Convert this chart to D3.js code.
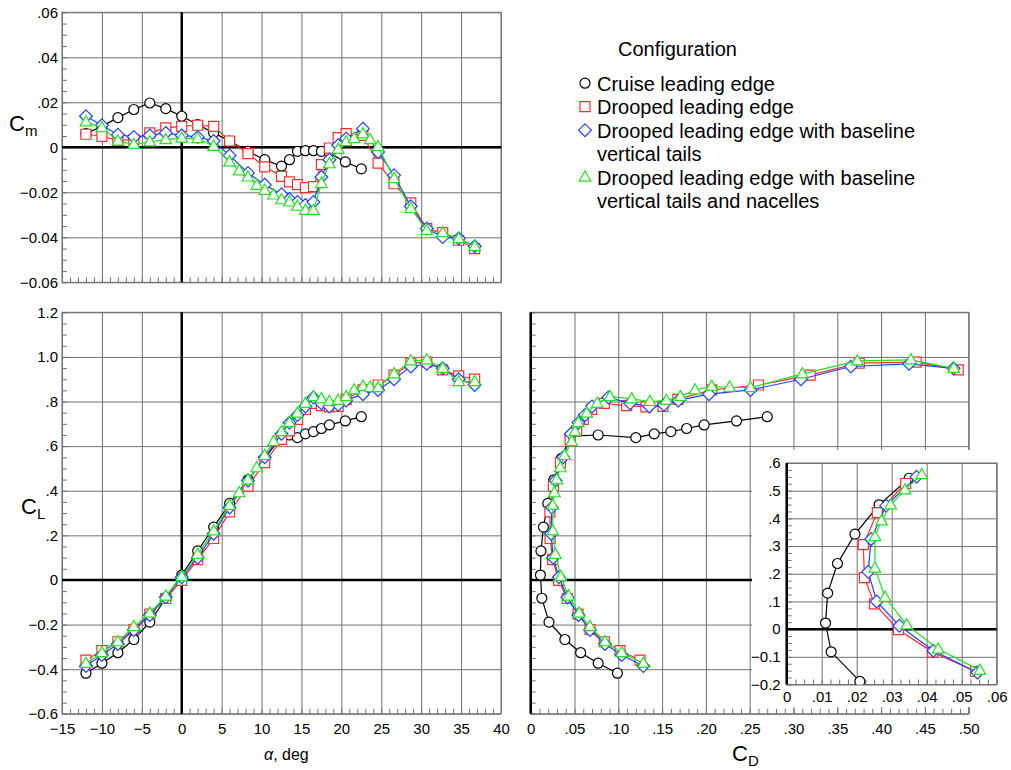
<!DOCTYPE html>
<html>
<head>
<meta charset="utf-8">
<script src="https://cdn.jsdelivr.net/npm/d3@7"></script>
<style>
    body { margin: 0; background: #fff; }
    text { font-family: "Liberation Sans", Arial, sans-serif; fill: #000; }
</style>
</head>
<body>
<script>
// ---- data ----
// cruise leading edge
var alphaCruise = [-12, -10, -8, -6, -4, -2, 0, 2, 4, 6, 8.3, 10.4, 12.5, 13.5, 14.5, 15.5, 16.5, 17.5, 18.5, 20.5, 22.5];
var clCruise = [-.418, -.373, -.326, -.267, -.189, -.082, .022, .130, .237, .343, .449, .545, .645, .650, .638, .655, .665, .679, .695, .713, .732];
var cdCruise = [.099, .077, .057, .039, .0209, .0127, .0111, .0117, .0145, .0195, .0264, .035, .045, .077, .120, .141, .160, .178, .198, .235, .270];
var cmCruise = [.0061, .0093, .0132, .0168, .0197, .0172, .0138, .0101, .0064, .0028, -.0018, -.0055, -.0084, -.0055, -.0018, -.0015, -.0015, -.0018, -.0025, -.0065, -.0096];

// drooped leading edge (also used for the alpha list of the vertical-tail case)
var alphaDroop = [-12, -10, -8, -6, -4, -2, 0, 2, 4, 6, 8.3, 10.4, 12.5, 13.5, 14.5, 15.5, 16.5, 17.5, 18.5, 19.6, 20.6, 22.7, 24.6, 26.6, 28.7, 30.7, 32.7, 34.7, 36.7];
var clDroop = [-.359, -.317, -.277, -.222, -.153, -.083, -.002, .091, .186, .305, .421, .526, .630, .668, .720, .765, .792, .782, .776, .778, .810, .852, .874, .918, .972, .977, .942, .915, .900];
var cdDroop = [.1248, .102, .084, .0677, .0540, .0417, .0319, .0251, .0222, .0219, .0259, .0340, .045, .0525, .060, .0696, .084, .1096, .1316, .151, .168, .2066, .260, .319, .375, .440, .488, .520, .550];
var cmDroop = [.0058, .0049, .0031, .0034, .0064, .0086, .0093, .0098, .0093, .0028, -.0028, -.0087, -.0129, -.0154, -.0166, -.0179, -.0175, -.0077, -.0003, .0043, .0061, .0053, -.0070, -.0162, -.0247, -.0361, -.0379, -.0413, -.0450];

// drooped leading edge with baseline vertical tails
var clTails = [-.386, -.336, -.287, -.224, -.157, -.078, .012, .100, .207, .325, .446, .550, .655, .705, .740, .778, .818, .792, .778, .785, .805, .833, .852, .900, .957, .969, .949, .900, .874];
var cdTails = [.1286, .1039, .0848, .0677, .0545, .0419, .0322, .0257, .0233, .0241, .0284, .0371, .046, .0545, .0620, .0700, .0886, .1134, .1354, .152, .1685, .2035, .251, .3085, .3655, .432, .4827, .515, .545];
var cmTails = [.0138, .0098, .0056, .0046, .0053, .0064, .0053, .0046, .0028, -.0036, -.0114, -.0166, -.0209, -.0231, -.0243, -.0256, -.0243, -.0132, -.0055, .0009, .0039, .0083, -.0021, -.0124, -.0262, -.0361, -.0399, -.0405, -.0440];

// drooped leading edge with baseline vertical tails and nacelles
var alphaNac = [-12, -10, -8, -6, -4, -2, 0, 2, 4, 6, 7.2, 8.3, 9.4, 10.4, 11.5, 12.5, 13.5, 14.5, 15.5, 16.5, 17.5, 18.5, 19.6, 20.6, 21.6, 22.7, 23.6, 24.6, 26.6, 28.7, 30.7, 32.7, 34.7, 36.7];
var clNac = [-.374, -.326, -.277, -.209, -.149, -.072, .015, .115, .220, .334, .391, .449, .503, .558, .620, .665, .705, .748, .792, .822, .812, .800, .805, .822, .852, .868, .864, .862, .924, .982, .987, .949, .889, .889];
var cdNac = [.1286, .1039, .0848, .0677, .0552, .0433, .0343, .0281, .0252, .0252, .0271, .0297, .0338, .0386, .0468, .0505, .0544, .064, .076, .0905, .1153, .136, .155, .171, .1876, .2066, .227, .251, .31, .373, .434, .483, .515, .545];
var cmNac = [.0113, .0087, .0028, .0013, .0024, .0034, .0041, .0039, .0004, -.0065, -.0105, -.0132, -.0169, -.0191, -.0212, -.0233, -.0243, -.0262, -.028, -.028, -.0161, -.0073, -.0009, .0025, .0039, .006, .0034, .0003, -.0139, -.0272, -.0369, -.0379, -.0406, -.044];

var legendTitle = "Configuration";
var legendLines = [
    ["Cruise leading edge"],
    ["Drooped leading edge"],
    ["Drooped leading edge with baseline", "vertical tails"],
    ["Drooped leading edge with baseline", "vertical tails and nacelles"]
];
var seriesColors = ["#000000", "#ff2e2e", "#2040ff", "#22e022"];
var seriesSymbols = ["circle", "square", "diamond", "triangle"];

// tick values
var alphaTicks = [-15, -10, -5, 0, 5, 10, 15, 20, 25, 30, 35, 40];
var cmTicks = [-.06, -.04, -.02, 0, .02, .04, .06];
var clTicks = [-.6, -.4, -.2, 0, .2, .4, .6, .8, 1.0, 1.2];
var cdTicks = [0, .05, .10, .15, .20, .25, .30, .35, .40, .45, .50];
var insetCdTicks = [0, .01, .02, .03, .04, .05, .06];
var insetClTicks = [-.2, -.1, 0, .1, .2, .3, .4, .5, .6];
var insetAlphaRange = [-4, 10.5];   // the close-up only shows this part of each run

var series = [
    { alpha: alphaCruise, cl: clCruise, cd: cdCruise, cm: cmCruise },
    { alpha: alphaDroop, cl: clDroop, cd: cdDroop, cm: cmDroop },
    { alpha: alphaDroop, cl: clTails, cd: cdTails, cm: cmTails },
    { alpha: alphaNac, cl: clNac, cd: cdNac, cm: cmNac }
];
series.forEach(function (s, i) {
    s.color = seriesColors[i];
    s.symbol = seriesSymbols[i];
});

var svg = d3.select("body").append("svg")
    .attr("width", 1011)
    .attr("height", 770);

var defs = svg.append("defs");
var gridColor = "#707070";

function fmt(dec) {
    return function (d) {
        if (Math.abs(d) < 1e-9) return "0";
        return d3.format("." + dec + "f")(d).replace(/^(-?)0\./, "$1.");
    };
}

function markerPath(type) {
    if (type === "circle") return d3.symbol(d3.symbolCircle, Math.PI * 25)();
    if (type === "square") return "M-5,-5H5V5H-5Z";
    if (type === "diamond") return "M0,-6.4L6.4,0L0,6.4L-6.4,0Z";
    return "M0,-6.2L5.8,4L-5.8,4Z";
}

function gridStyle(sel) {
    sel.select(".domain").remove();
    sel.selectAll("line").attr("stroke", gridColor).attr("stroke-width", 1);
}

function labelStyle(sel) {
    sel.select(".domain").remove();
    sel.attr("font-family", null).attr("font-size", null);
    sel.selectAll("text").style("font-size", "15px");
}

// one framed panel with grid, minor ticks, zero lines and labels
function makePanel(o) {
    var x = d3.scaleLinear().domain(o.xDomain).range([o.x0, o.x1]);
    var y = d3.scaleLinear().domain(o.yDomain).range([o.y1, o.y0]);
    var w = o.x1 - o.x0,
        h = o.y1 - o.y0;
    var g = svg.append("g");

    if (o.box) {
        g.append("rect")
            .attr("x", o.box[0]).attr("y", o.box[1])
            .attr("width", o.box[2]).attr("height", o.box[3])
            .attr("fill", "#fff");
    }

    g.append("g")
        .attr("transform", "translate(0," + o.y1 + ")")
        .call(d3.axisBottom(x).tickValues(o.xMajor).tickSize(-h).tickFormat(""))
        .call(gridStyle);
    g.append("g")
        .attr("transform", "translate(" + o.x0 + ",0)")
        .call(d3.axisLeft(y).tickValues(o.yMajor).tickSize(-w).tickFormat(""))
        .call(gridStyle);

    // minor ticks, inside the frame
    g.append("g")
        .attr("transform", "translate(0," + o.y1 + ")")
        .call(d3.axisBottom(x).tickValues(o.xMinor).tickSize(-5).tickFormat(""))
        .call(gridStyle);
    g.append("g")
        .attr("transform", "translate(" + o.x0 + ",0)")
        .call(d3.axisLeft(y).tickValues(o.yMinor).tickSize(-5).tickFormat(""))
        .call(gridStyle);

    g.append("rect")
        .attr("x", o.x0).attr("y", o.y0)
        .attr("width", w).attr("height", h)
        .attr("fill", "none")
        .attr("stroke", gridColor)
        .attr("stroke-width", 1);

    // heavy zero lines
    g.append("line")
        .attr("x1", x(0)).attr("x2", x(0))
        .attr("y1", o.y0).attr("y2", o.y1)
        .attr("stroke", "#000").attr("stroke-width", 2.5);
    g.append("line")
        .attr("x1", o.x0).attr("x2", o.x1)
        .attr("y1", y(0)).attr("y2", y(0))
        .attr("stroke", "#000").attr("stroke-width", 2.5);

    if (o.xFmt) {
        g.append("g")
            .attr("transform", "translate(0," + o.y1 + ")")
            .call(d3.axisBottom(x).tickValues(o.xMajor).tickSize(0).tickPadding(o.xPad).tickFormat(o.xFmt))
            .call(labelStyle);
    }
    if (o.yFmt) {
        g.append("g")
            .attr("transform", "translate(" + o.x0 + ",0)")
            .call(d3.axisLeft(y).tickValues(o.yMajor).tickSize(0).tickPadding(o.yPad).tickFormat(o.yFmt))
            .call(labelStyle);
    }

    defs.append("clipPath").attr("id", o.id)
        .append("rect")
        .attr("x", o.x0).attr("y", o.y0)
        .attr("width", w).attr("height", h);

    return { x: x, y: y, g: g, id: o.id };
}

function drawSeries(p, s, xKey, yKey, keep) {
    var idx = d3.range(s[xKey].length).filter(function (i) { return keep ? keep(s, i) : true; });
    var pts = idx.map(function (i) { return [p.x(s[xKey][i]), p.y(s[yKey][i])]; });
    var layer = p.g.append("g").attr("clip-path", "url(#" + p.id + ")");
    layer.append("path")
        .attr("d", d3.line()(pts))
        .attr("fill", "none")
        .attr("stroke", s.color)
        .attr("stroke-width", 1.2);
    layer.selectAll(".mark")
        .data(pts)
        .enter()
        .append("path")
        .attr("class", "mark")
        .attr("transform", function (d) { return "translate(" + d[0] + "," + d[1] + ")"; })
        .attr("d", markerPath(s.symbol))
        .attr("fill", "#fff")
        .attr("stroke", s.color)
        .attr("stroke-width", 1.2);
}

// ---- Cm vs alpha ----
var cmPanel = makePanel({
    id: "clipCm", x0: 62, x1: 501, y0: 12.3, y1: 282.3,
    xDomain: [-15, 40], yDomain: [-.06, .06],
    xMajor: alphaTicks, yMajor: cmTicks,
    xMinor: d3.range(-15, 40.5, 1), yMinor: d3.range(-.06, .0601, .005),
    yFmt: fmt(2), yPad: 4
});
series.forEach(function (s) { drawSeries(cmPanel, s, "alpha", "cm"); });

// ---- CL vs alpha ----
var clPanel = makePanel({
    id: "clipCl", x0: 62, x1: 501, y0: 312.3, y1: 713.8,
    xDomain: [-15, 40], yDomain: [-.6, 1.2],
    xMajor: alphaTicks, yMajor: clTicks,
    xMinor: d3.range(-15, 40.5, 1), yMinor: d3.range(-.6, 1.201, .05),
    xFmt: fmt(0), xPad: 9.5, yFmt: fmt(1), yPad: 4
});
series.forEach(function (s) { drawSeries(clPanel, s, "alpha", "cl"); });

// ---- CL vs CD ----
var cdPanel = makePanel({
    id: "clipCd", x0: 530.7, x1: 968.7, y0: 312.3, y1: 713.8,
    xDomain: [0, .5], yDomain: [-.6, 1.2],
    xMajor: cdTicks, yMajor: clTicks,
    xMinor: d3.range(0, .5005, .01), yMinor: d3.range(-.6, 1.201, .05),
    xFmt: fmt(2), xPad: 9.5
});
series.forEach(function (s) {
    drawSeries(cdPanel, s, "cd", "cl", function (d, i) { return d.cd[i] <= .5; });
});

// ---- inset: CL vs CD close-up ----
var insetPanel = makePanel({
    id: "clipInset", x0: 786.7, x1: 996.7, y0: 463, y1: 684.5,
    box: [752, 450, 259, 257],
    xDomain: [0, .06], yDomain: [-.2, .6],
    xMajor: insetCdTicks, yMajor: insetClTicks,
    xMinor: d3.range(0, .0601, .0025), yMinor: d3.range(-.2, .601, .025),
    xFmt: fmt(2), xPad: 7, yFmt: fmt(1), yPad: 6
});
series.forEach(function (s) {
    drawSeries(insetPanel, s, "cd", "cl", function (d, i) {
        return d.alpha[i] >= insetAlphaRange[0] && d.alpha[i] <= insetAlphaRange[1];
    });
});

// ---- axis titles ----
function subTitle(x, y, main, sub) {
    var t = svg.append("text").attr("x", x).attr("y", y).style("font-size", "22px");
    t.append("tspan").text(main);
    t.append("tspan").attr("dy", 5).style("font-size", "15px").text(sub);
}
subTitle(9, 131, "C", "m");
subTitle(21, 514, "C", "L");
subTitle(732, 761, "C", "D");

var aTitle = svg.append("text").attr("x", 264).attr("y", 760).style("font-size", "16px");
aTitle.append("tspan").style("font-style", "italic").text("\u03b1");
aTitle.append("tspan").text(", deg");

// ---- legend ----
svg.append("text")
    .attr("x", 618).attr("y", 56)
    .style("font-size", "20px")
    .text(legendTitle);

var lineY = 90.7, lineStep = 23.5, row = 0;
legendLines.forEach(function (lines, i) {
    var y0 = lineY + row * lineStep;
    svg.append("path")
        .attr("transform", "translate(585," + (y0 - 7.5) + ")")
        .attr("d", markerPath(seriesSymbols[i]))
        .attr("fill", "#fff")
        .attr("stroke", seriesColors[i])
        .attr("stroke-width", 1.2);
    lines.forEach(function (txt, k) {
        svg.append("text")
            .attr("x", 597).attr("y", y0 + k * lineStep)
            .style("font-size", "20px")
            .text(txt);
    });
    row += lines.length;
});
</script>
</body>
</html>
